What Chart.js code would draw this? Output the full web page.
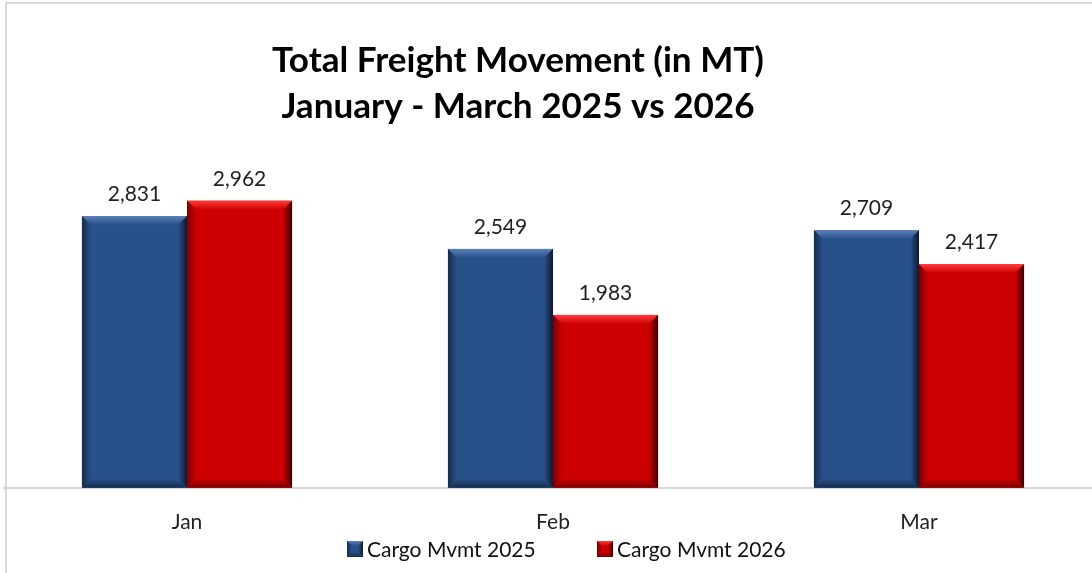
<!DOCTYPE html>
<html>
<head>
<meta charset="utf-8">
<script src="https://cdn.jsdelivr.net/npm/chart.js@4.4.1/dist/chart.umd.min.js"></script>
<style>
html,body{margin:0;padding:0;background:#fff;overflow:hidden;width:1092px;height:573px;}
canvas{display:block;}
</style>
</head>
<body>
<canvas id="c" width="1102" height="573"></canvas>
<script>
const categories = ["Jan", "Feb", "Mar"];
const series2025 = [2831, 2549, 2709];
const series2026 = [2962, 1983, 2417];
const seriesNames = ["Cargo Mvmt 2025", "Cargo Mvmt 2026"];
const titleLines = ["Total Freight Movement (in MT)", "January - March 2025 vs 2026"];

const FONT = "Lato, 'Open Sans', sans-serif";
const palette = [
  {base: "#28518a", light: "#5a80b8", dark: "#152c4d", darkest: "#0c1a30"},
  {base: "#cc0000", light: "#ff3b3b", dark: "#7a0000", darkest: "#3a0000"}
];

function bevelRect(ctx, l, t, r, b, pal, bv) {
  ctx.save();
  ctx.fillStyle = pal.base;
  ctx.fillRect(l, t, r - l, b - t);
  let g = ctx.createLinearGradient(0, t, 0, t + bv);
  g.addColorStop(0, pal.light); g.addColorStop(1, pal.base);
  ctx.fillStyle = g;
  ctx.beginPath(); ctx.moveTo(l, t); ctx.lineTo(r, t); ctx.lineTo(r - bv, t + bv); ctx.lineTo(l + bv, t + bv); ctx.closePath(); ctx.fill();
  g = ctx.createLinearGradient(l, 0, l + bv, 0);
  g.addColorStop(0, pal.dark); g.addColorStop(1, pal.base);
  ctx.fillStyle = g;
  ctx.beginPath(); ctx.moveTo(l, t); ctx.lineTo(l + bv, t + bv); ctx.lineTo(l + bv, b - bv); ctx.lineTo(l, b); ctx.closePath(); ctx.fill();
  g = ctx.createLinearGradient(r - bv, 0, r, 0);
  g.addColorStop(0, pal.base); g.addColorStop(1, pal.darkest);
  ctx.fillStyle = g;
  ctx.beginPath(); ctx.moveTo(r, t); ctx.lineTo(r - bv, t + bv); ctx.lineTo(r - bv, b - bv); ctx.lineTo(r, b); ctx.closePath(); ctx.fill();
  g = ctx.createLinearGradient(0, b - bv, 0, b);
  g.addColorStop(0, pal.base); g.addColorStop(1, pal.dark);
  ctx.fillStyle = g;
  ctx.beginPath(); ctx.moveTo(l, b); ctx.lineTo(r, b); ctx.lineTo(r - bv, b - bv); ctx.lineTo(l + bv, b - bv); ctx.closePath(); ctx.fill();
  ctx.restore();
}

const decorPlugin = {
  id: "decor",
  beforeDraw(chart) {
    const ctx = chart.ctx;
    ctx.save();
    ctx.fillStyle = "#fff";
    ctx.fillRect(0, 0, chart.width, chart.height);
    ctx.strokeStyle = "#d9d9d9";
    ctx.lineWidth = 2;
    ctx.strokeRect(6, 3, 3000, 3000);
    ctx.restore();
  },
  afterDatasetsDraw(chart) {
    const ctx = chart.ctx;
    const bottom = chart.chartArea.bottom;
    chart.data.datasets.forEach((ds, di) => {
      const meta = chart.getDatasetMeta(di);
      meta.data.forEach((bar, i) => {
        const p = bar.getProps(["x", "y", "base", "width"], true);
        const l = p.x - p.width / 2, r = p.x + p.width / 2;
        bevelRect(ctx, l, p.y, r, Math.min(p.base, bottom), palette[di], 9);
        ctx.save();
        ctx.font = "21px " + FONT;
        ctx.fillStyle = "#222";
        ctx.textAlign = "center";
        ctx.textBaseline = "alphabetic";
        ctx.fillText(ds.data[i].toLocaleString("en-US"), p.x, p.y - 15);
        ctx.restore();
      });
    });
  },
  afterDraw(chart) {
    const ctx = chart.ctx;
    ctx.save();
    ctx.fillStyle = "#000";
    ctx.textAlign = "center";
    ctx.textBaseline = "alphabetic";
    ctx.font = "bold 35px " + FONT;
    const w = ctx.measureText(titleLines[0]).width;
    const sx = 492 / w;
    ctx.translate(518, 0);
    ctx.scale(sx, 1);
    ctx.fillText(titleLines[0], 0, 72);
    ctx.fillText(titleLines[1], 0, 118);
    ctx.restore();
    ctx.save();
    ctx.font = "21px " + FONT;
    ctx.textBaseline = "middle";
    ctx.textAlign = "left";
    const starts = [347, 597];
    chart.data.datasets.forEach((ds, di) => {
      const x = starts[di], y = 549;
      bevelRect(ctx, x, y - 8, x + 16, y + 8, palette[di], 5);
      ctx.fillStyle = "#111";
      ctx.fillText(ds.label, x + 20, y + 1);
    });
    ctx.restore();
  }
};

new Chart(document.getElementById("c"), {
  type: "bar",
  data: {
    labels: categories,
    datasets: [
      {label: seriesNames[0], data: series2025, backgroundColor: "rgba(0,0,0,0)"},
      {label: seriesNames[1], data: series2026, backgroundColor: "rgba(0,0,0,0)"}
    ]
  },
  options: {
    responsive: false,
    animation: false,
    devicePixelRatio: 1,
    layout: {padding: {top: 138, left: 4, right: 0, bottom: 16}},
    datasets: {bar: {categoryPercentage: 0.574, barPercentage: 1}},
    plugins: {legend: {display: false}, title: {display: false}, tooltip: {enabled: false}},
    scales: {
      x: {
        grid: {display: false, drawTicks: false},
        border: {display: true, color: "#d9d9d9", width: 2},
        ticks: {color: "#222", font: {size: 21, family: FONT}, padding: 22, autoSkip: false, maxRotation: 0}
      },
      y: {
        display: false,
        min: 500,
        max: 3500
      }
    }
  },
  plugins: [decorPlugin]
});
</script>
</body>
</html>
